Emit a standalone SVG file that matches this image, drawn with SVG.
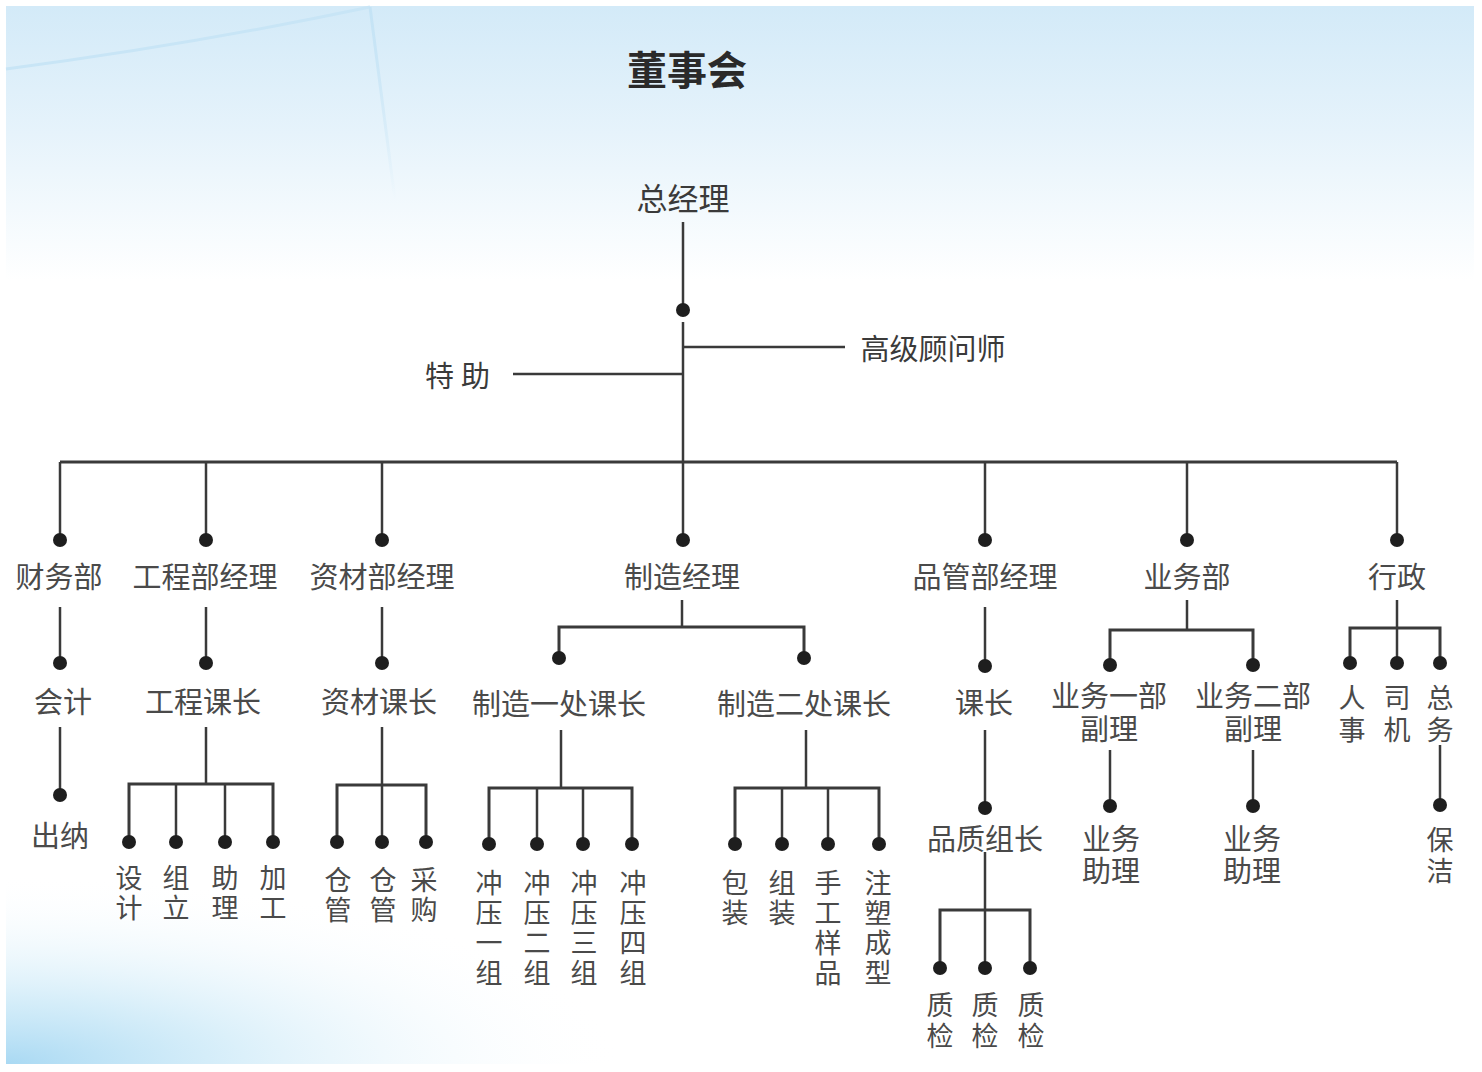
<svg xmlns="http://www.w3.org/2000/svg" width="1482" height="1072" viewBox="0 0 1482 1072">
<defs>
<linearGradient id="bgTop" x1="0" y1="0" x2="0" y2="1">
<stop offset="0" stop-color="#d3eaf8"/>
<stop offset="0.12" stop-color="#e6f3fb"/>
<stop offset="0.26" stop-color="#ffffff"/>
<stop offset="1" stop-color="#ffffff"/>
</linearGradient>
<radialGradient id="bgBL" cx="6" cy="1064" r="1" gradientUnits="userSpaceOnUse" gradientTransform="translate(6 1064) scale(620 190) translate(-6 -1064)">
<stop offset="0" stop-color="#a9d9f3"/>
<stop offset="0.35" stop-color="#cdeaf8" stop-opacity="0.8"/>
<stop offset="1" stop-color="#ffffff" stop-opacity="0"/>
</radialGradient>
<linearGradient id="vline" x1="0" y1="0" x2="0" y2="1">
<stop offset="0" stop-color="#c4e3f5"/>
<stop offset="1" stop-color="#c4e3f5" stop-opacity="0"/>
</linearGradient>
</defs>
<style>
.ln{stroke:#3a3a3a;stroke-width:2.5;fill:none}
.bar{stroke:#3a3a3a;stroke-width:3;fill:none}
.dot{fill:#1e1e1e}
.t{font-family:"Noto Sans CJK SC","Noto Sans",sans-serif;fill:#4a4a4a;text-anchor:middle;dominant-baseline:central;font-size:29px}
.v{font-size:27px}
.title{font-size:40px;font-weight:bold;fill:#2a2a2a}
.gm{font-size:31px;fill:#3a3a3a}
.side{font-size:29px;fill:#3a3a3a}
</style>
<rect x="0" y="0" width="1482" height="1072" fill="#ffffff"/>
<rect x="6" y="6" width="1468" height="1058" fill="url(#bgTop)"/>
<rect x="6" y="6" width="1468" height="1058" fill="url(#bgBL)"/>
<path d="M6 69 Q190 45 370 7" stroke="#c8e5f6" stroke-width="3" fill="none"/>
<path d="M370 7 L395 200" stroke="url(#vline)" stroke-width="3" fill="none"/>

<g id="connectors">
<line class="ln" x1="683" y1="222" x2="683" y2="310"/>
<line class="ln" x1="683" y1="322" x2="683" y2="462"/>
<line class="ln" x1="683" y1="347" x2="845" y2="347"/>
<line class="ln" x1="513" y1="374" x2="683" y2="374"/>
<line class="bar" x1="60" y1="462" x2="1397" y2="462"/>
<line class="ln" x1="60" y1="462" x2="60" y2="540"/>
<line class="ln" x1="206" y1="462" x2="206" y2="540"/>
<line class="ln" x1="382" y1="462" x2="382" y2="540"/>
<line class="ln" x1="683" y1="462" x2="683" y2="540"/>
<line class="ln" x1="985" y1="462" x2="985" y2="540"/>
<line class="ln" x1="1187" y1="462" x2="1187" y2="540"/>
<line class="ln" x1="1397" y1="462" x2="1397" y2="540"/>
<!-- finance -->
<line class="ln" x1="60" y1="607" x2="60" y2="663"/>
<line class="ln" x1="60" y1="727" x2="60" y2="795"/>
<!-- engineering -->
<line class="ln" x1="206" y1="607" x2="206" y2="663"/>
<line class="ln" x1="206" y1="727" x2="206" y2="784"/>
<path class="bar" d="M129 842 V784 H273 V842"/>
<line class="ln" x1="176" y1="784" x2="176" y2="842"/>
<line class="ln" x1="225" y1="784" x2="225" y2="842"/>
<!-- materials -->
<line class="ln" x1="382" y1="607" x2="382" y2="663"/>
<line class="ln" x1="382" y1="727" x2="382" y2="842"/>
<path class="bar" d="M337 842 V785 H426 V842"/>
<!-- manufacturing -->
<line class="ln" x1="683" y1="540" x2="683" y2="540"/>
<line class="ln" x1="682" y1="600" x2="682" y2="627"/>
<path class="bar" d="M559 658 V627 H804 V658"/>
<line class="ln" x1="561" y1="730" x2="561" y2="788"/>
<path class="bar" d="M489 844 V788 H632 V844"/>
<line class="ln" x1="537" y1="788" x2="537" y2="844"/>
<line class="ln" x1="583" y1="788" x2="583" y2="844"/>
<line class="ln" x1="806" y1="730" x2="806" y2="788"/>
<path class="bar" d="M735 844 V788 H879 V844"/>
<line class="ln" x1="782" y1="788" x2="782" y2="844"/>
<line class="ln" x1="828" y1="788" x2="828" y2="844"/>
<!-- quality -->
<line class="ln" x1="985" y1="607" x2="985" y2="666"/>
<line class="ln" x1="985" y1="730" x2="985" y2="808"/>
<line class="ln" x1="985" y1="852" x2="985" y2="968"/>
<path class="bar" d="M940 968 V910 H1030 V968"/>
<!-- sales -->
<line class="ln" x1="1187" y1="600" x2="1187" y2="630"/>
<path class="bar" d="M1110 665 V630 H1253 V665"/>
<line class="ln" x1="1110" y1="750" x2="1110" y2="806"/>
<line class="ln" x1="1253" y1="750" x2="1253" y2="806"/>
<!-- admin -->
<line class="ln" x1="1397" y1="600" x2="1397" y2="663"/>
<path class="bar" d="M1350 663 V628 H1440 V663"/>
<line class="ln" x1="1440" y1="745" x2="1440" y2="805"/>
</g>

<g id="dots">
<circle class="dot" cx="683" cy="310" r="7"/>
<circle class="dot" cx="60" cy="540" r="7"/>
<circle class="dot" cx="206" cy="540" r="7"/>
<circle class="dot" cx="382" cy="540" r="7"/>
<circle class="dot" cx="683" cy="540" r="7"/>
<circle class="dot" cx="985" cy="540" r="7"/>
<circle class="dot" cx="1187" cy="540" r="7"/>
<circle class="dot" cx="1397" cy="540" r="7"/>
<circle class="dot" cx="60" cy="663" r="7"/>
<circle class="dot" cx="60" cy="795" r="7"/>
<circle class="dot" cx="206" cy="663" r="7"/>
<circle class="dot" cx="129" cy="842" r="7"/>
<circle class="dot" cx="176" cy="842" r="7"/>
<circle class="dot" cx="225" cy="842" r="7"/>
<circle class="dot" cx="273" cy="842" r="7"/>
<circle class="dot" cx="382" cy="663" r="7"/>
<circle class="dot" cx="337" cy="842" r="7"/>
<circle class="dot" cx="382" cy="842" r="7"/>
<circle class="dot" cx="426" cy="842" r="7"/>
<circle class="dot" cx="559" cy="658" r="7"/>
<circle class="dot" cx="804" cy="658" r="7"/>
<circle class="dot" cx="489" cy="844" r="7"/>
<circle class="dot" cx="537" cy="844" r="7"/>
<circle class="dot" cx="583" cy="844" r="7"/>
<circle class="dot" cx="632" cy="844" r="7"/>
<circle class="dot" cx="735" cy="844" r="7"/>
<circle class="dot" cx="782" cy="844" r="7"/>
<circle class="dot" cx="828" cy="844" r="7"/>
<circle class="dot" cx="879" cy="844" r="7"/>
<circle class="dot" cx="985" cy="666" r="7"/>
<circle class="dot" cx="985" cy="808" r="7"/>
<circle class="dot" cx="940" cy="968" r="7"/>
<circle class="dot" cx="985" cy="968" r="7"/>
<circle class="dot" cx="1030" cy="968" r="7"/>
<circle class="dot" cx="1110" cy="665" r="7"/>
<circle class="dot" cx="1253" cy="665" r="7"/>
<circle class="dot" cx="1110" cy="806" r="7"/>
<circle class="dot" cx="1253" cy="806" r="7"/>
<circle class="dot" cx="1350" cy="663" r="7"/>
<circle class="dot" cx="1397" cy="663" r="7"/>
<circle class="dot" cx="1440" cy="663" r="7"/>
<circle class="dot" cx="1440" cy="805" r="7"/>
</g>

<g id="n-board"><text class="t title" x="687" y="68">董事会</text></g>
<g id="n-gm"><text class="t gm" x="683" y="196">总经理</text></g>
<g id="n-advisor"><text class="t side" x="933" y="347">高级顾问师</text></g>
<g id="n-assistant"><text class="t side" x="461" y="374" letter-spacing="7">特助</text></g>

<g id="n-finance"><text class="t" x="59" y="575">财务部</text></g>
<g id="n-eng"><text class="t" x="205" y="575">工程部经理</text></g>
<g id="n-mat"><text class="t" x="382" y="575">资材部经理</text></g>
<g id="n-mfg"><text class="t" x="682" y="575">制造经理</text></g>
<g id="n-qa"><text class="t" x="985" y="575">品管部经理</text></g>
<g id="n-sales"><text class="t" x="1187" y="575">业务部</text></g>
<g id="n-admin"><text class="t" x="1397" y="575">行政</text></g>

<g id="n-acct"><text class="t" x="63" y="700">会计</text></g>
<g id="n-cashier"><text class="t" x="60" y="834">出纳</text></g>

<g id="n-engchief"><text class="t" x="203" y="700">工程课长</text></g>
<g id="n-design"><text class="t v" x="129" y="876">设<tspan x="129" dy="30">计</tspan></text></g>
<g id="n-assembly"><text class="t v" x="176" y="876">组<tspan x="176" dy="30">立</tspan></text></g>
<g id="n-helper"><text class="t v" x="225" y="876">助<tspan x="225" dy="30">理</tspan></text></g>
<g id="n-process"><text class="t v" x="273" y="876">加<tspan x="273" dy="30">工</tspan></text></g>

<g id="n-matchief"><text class="t" x="379" y="700">资材课长</text></g>
<g id="n-wh1"><text class="t v" x="338" y="878">仓<tspan x="338" dy="30">管</tspan></text></g>
<g id="n-wh2"><text class="t v" x="383" y="878">仓<tspan x="383" dy="30">管</tspan></text></g>
<g id="n-purchase"><text class="t v" x="424" y="878">采<tspan x="424" dy="30">购</tspan></text></g>

<g id="n-mfg1"><text class="t" x="559" y="702">制造一处课长</text></g>
<g id="n-mfg2"><text class="t" x="804" y="702">制造二处课长</text></g>
<g id="n-p1"><text class="t v" x="489" y="881">冲<tspan x="489" dy="30">压</tspan><tspan x="489" dy="30">一</tspan><tspan x="489" dy="30">组</tspan></text></g>
<g id="n-p2"><text class="t v" x="537" y="881">冲<tspan x="537" dy="30">压</tspan><tspan x="537" dy="30">二</tspan><tspan x="537" dy="30">组</tspan></text></g>
<g id="n-p3"><text class="t v" x="584" y="881">冲<tspan x="584" dy="30">压</tspan><tspan x="584" dy="30">三</tspan><tspan x="584" dy="30">组</tspan></text></g>
<g id="n-p4"><text class="t v" x="633" y="881">冲<tspan x="633" dy="30">压</tspan><tspan x="633" dy="30">四</tspan><tspan x="633" dy="30">组</tspan></text></g>
<g id="n-pack"><text class="t v" x="735" y="881">包<tspan x="735" dy="30">装</tspan></text></g>
<g id="n-asm"><text class="t v" x="782" y="881">组<tspan x="782" dy="30">装</tspan></text></g>
<g id="n-sample"><text class="t v" x="828" y="881">手<tspan x="828" dy="30">工</tspan><tspan x="828" dy="30">样</tspan><tspan x="828" dy="30">品</tspan></text></g>
<g id="n-mold"><text class="t v" x="878" y="881">注<tspan x="878" dy="30">塑</tspan><tspan x="878" dy="30">成</tspan><tspan x="878" dy="30">型</tspan></text></g>

<g id="n-qachief"><text class="t" x="984" y="701">课长</text></g>
<g id="n-qalead"><text class="t" x="985" y="837">品质组长</text></g>
<g id="n-qc1"><text class="t v" x="940" y="1003">质<tspan x="940" dy="31">检</tspan></text></g>
<g id="n-qc2"><text class="t v" x="985" y="1003">质<tspan x="985" dy="31">检</tspan></text></g>
<g id="n-qc3"><text class="t v" x="1031" y="1003">质<tspan x="1031" dy="31">检</tspan></text></g>

<g id="n-s1"><text class="t" x="1109" y="694">业务一部<tspan x="1109" dy="33">副理</tspan></text></g>
<g id="n-s2"><text class="t" x="1253" y="694">业务二部<tspan x="1253" dy="33">副理</tspan></text></g>
<g id="n-sa1"><text class="t" x="1111" y="837">业务<tspan x="1111" dy="32">助理</tspan></text></g>
<g id="n-sa2"><text class="t" x="1252" y="837">业务<tspan x="1252" dy="32">助理</tspan></text></g>

<g id="n-hr"><text class="t v" x="1352" y="696">人<tspan x="1352" dy="32">事</tspan></text></g>
<g id="n-driver"><text class="t v" x="1397" y="696">司<tspan x="1397" dy="32">机</tspan></text></g>
<g id="n-general"><text class="t v" x="1440" y="696">总<tspan x="1440" dy="32">务</tspan></text></g>
<g id="n-clean"><text class="t v" x="1440" y="838">保<tspan x="1440" dy="31">洁</tspan></text></g>
</svg>
